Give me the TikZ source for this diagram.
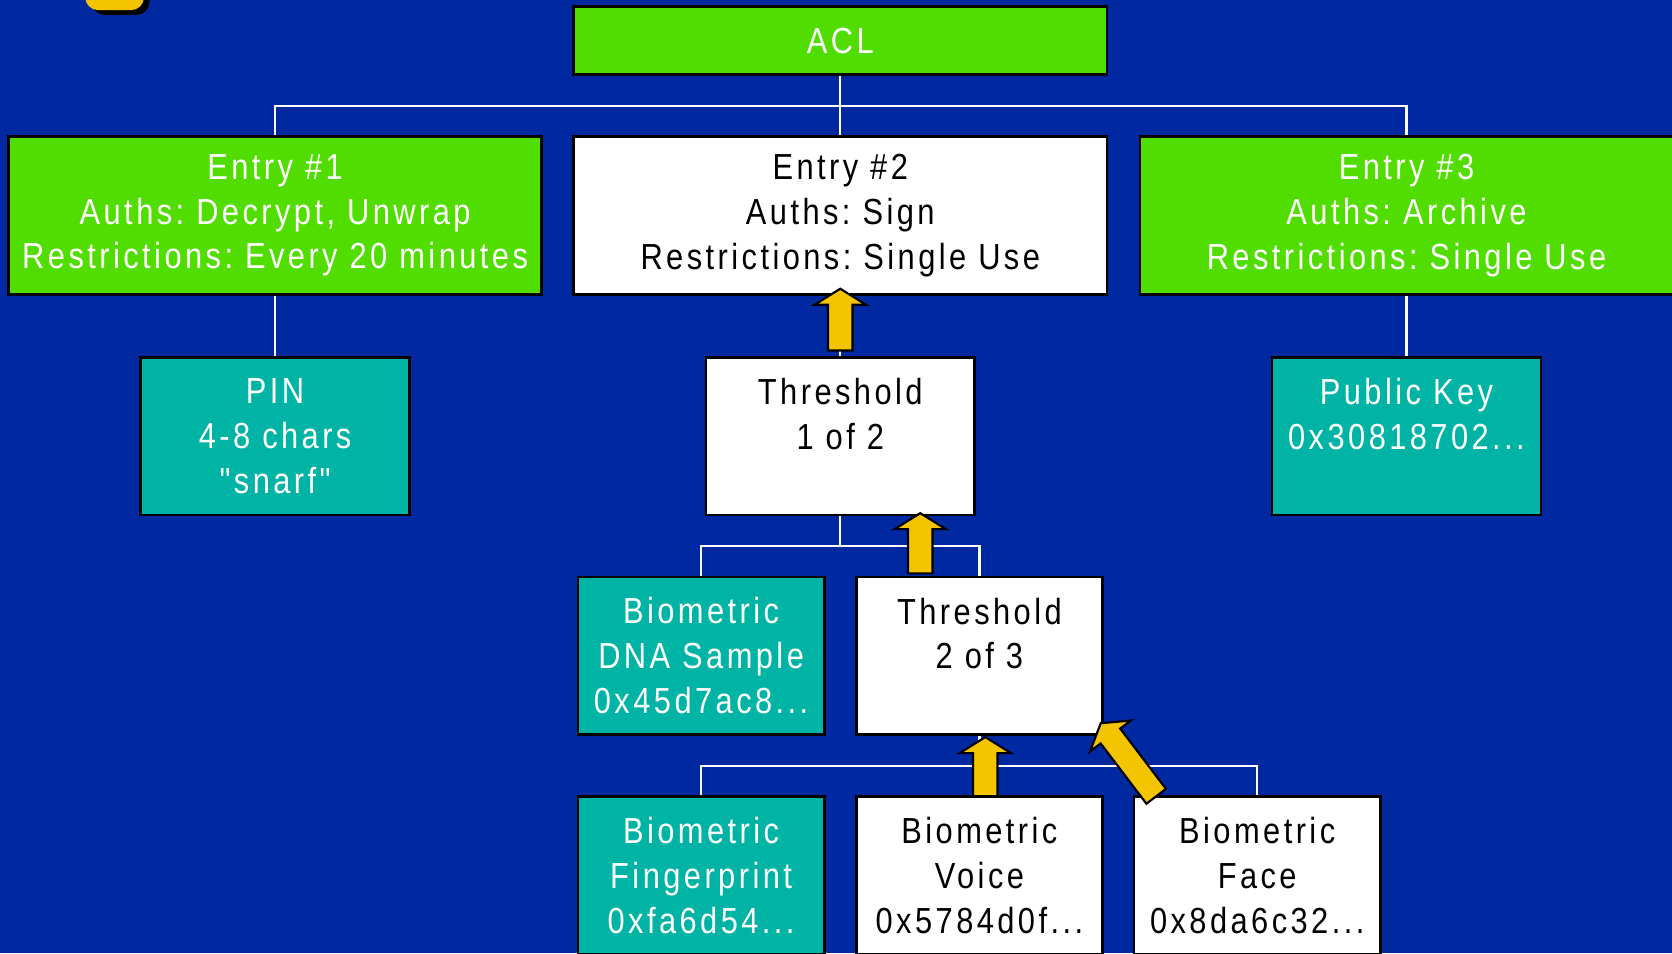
\documentclass[tikz,border=0pt]{standalone}
\usepackage{fontspec}
\newfontfamily\dfont{Liberation Sans}[FakeStretch=0.85,LetterSpace=9.5]
\usetikzlibrary{calc}
\definecolor{bgblue}{RGB}{0,40,160}
\definecolor{boxgreen}{RGB}{82,221,0}
\definecolor{boxteal}{RGB}{0,180,165}
\definecolor{arrowyellow}{RGB}{245,196,0}
\newcommand\fatarrow[2]{%
  \coordinate (fa-b) at ($(#2)!15pt!(#1)$);
  \draw[fat] ($(#1)!11.5pt!90:(#2)$) -- ($(fa-b)!11.5pt!90:(#2)$) -- ($(fa-b)!24pt!90:(#2)$) -- (#2)
     -- ($(fa-b)!24pt!-90:(#2)$) -- ($(fa-b)!11.5pt!-90:(#2)$) -- ($(#1)!11.5pt!-90:(#2)$) -- cycle;}
\begin{document}
\begin{tikzpicture}[x=1pt,y=-1pt,
  box/.style={draw=black, line width=2.5pt, minimum height=148pt, inner sep=0pt, align=center,
    font=\dfont\fontsize{34}{42}\selectfont\frenchspacing},
  greenbox/.style={box, fill=boxgreen, text=white},
  tealbox/.style={box, fill=boxteal, text=white},
  whitebox/.style={box, fill=white, text=black},
  widebox/.style={minimum width=500pt},
  midbox/.style={minimum width=252pt},
  smallbox/.style={minimum width=231pt},
  link/.style={draw=white, line width=2pt},
  fat/.style={fill=arrowyellow, draw=black, line width=2pt, line join=miter}
]
\fill[bgblue] (0,0) rectangle (1568,894);
\useasboundingbox (0,0) rectangle (1568,894);
% partial yellow shape at top left
\fill[black, rounded corners=12pt] (86,-25) rectangle (140,14);
\fill[arrowyellow, rounded corners=12pt] (80,-25) rectangle (135,9.5);

% nodes
\node[greenbox, widebox, minimum height=64pt] (acl) at (788,38) {ACL};
\node[greenbox, widebox] (e1) at (258,202) {Entry \#1\\Auths: Decrypt, Unwrap\\Restrictions: Every 20 minutes};
\node[whitebox, widebox] (e2) at (788,202) {Entry \#2\\Auths: Sign\\Restrictions: Single Use};
\node[greenbox, widebox] (e3) at (1319,202) {Entry \#3\\Auths: Archive\\Restrictions: Single Use};
\node[tealbox, midbox] (pin) at (258,409) {PIN\\4-8 chars\\"snarf"};
\node[whitebox, midbox] (thr1) at (788,409) {Threshold\\1 of 2\\\mbox{}};
\node[tealbox, midbox] (pk) at (1319,409) {Public Key\\0x30818702...\\\mbox{}};
\node[tealbox, smallbox] (dna) at (657.5,615) {Biometric\\DNA Sample\\0x45d7ac8...};
\node[whitebox, smallbox] (thr2) at (918.5,615) {Threshold\\2 of 3\\\mbox{}};
\node[tealbox, smallbox] (fp) at (657.5,821) {Biometric\\Fingerprint\\0xfa6d54...};
\node[whitebox, smallbox] (voice) at (918.5,821) {Biometric\\Voice\\0x5784d0f...};
\node[whitebox, smallbox] (face) at (1179,821) {Biometric\\Face\\0x8da6c32...};

% connectors
\coordinate (bus1) at (788,99);
\coordinate (bus2) at (788,512);
\coordinate (bus3) at (918,718);
\draw[link] (acl.south) -- (e2.north);
\draw[link] (e1.north) -- (e1.north |- bus1) -- (e3.north |- bus1) -- (e3.north);
\draw[link] (e1.south) -- (pin.north);
\draw[link] (e3.south) -- (pk.north);
\draw[link] (e2.south) -- (thr1.north);
\draw[link] (thr1.south) -- (thr1.south |- bus2);
\draw[link] (dna.north) -- (dna.north |- bus2) -- (thr2.north |- bus2) -- (thr2.north);
\draw[link] (thr2.south) -- (voice.north);
\draw[link] (fp.north) -- (fp.north |- bus3) -- (face.north |- bus3) -- (face.north);

% yellow arrows
\fatarrow{$(thr1.north)+(0,-5)$}{$(e2.south)+(0,-6.5)$}
\fatarrow{$(thr2.north)+(-55.5,-2)$}{$(thr1.south)+(75,-3)$}
\fatarrow{$(voice.north)+(5.5,1)$}{$(thr2.south)+(5.5,1)$}
\fatarrow{$(face.north west)+(22,1)$}{$(thr2.south east)+(-3,-12)$}
\end{tikzpicture}
\end{document}
